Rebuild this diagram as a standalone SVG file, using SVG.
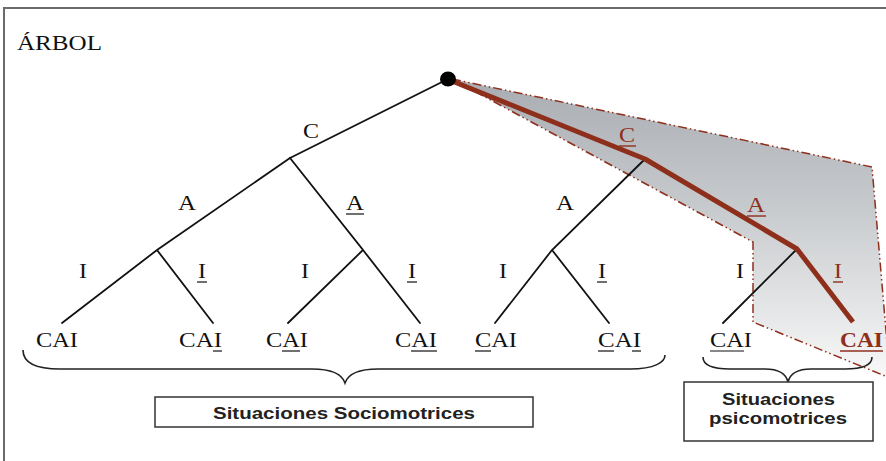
<svg xmlns="http://www.w3.org/2000/svg" width="886" height="461" viewBox="0 0 886 461">
<style>
.t{font-family:"Liberation Serif","Times New Roman",serif;font-size:21px;fill:#111}
.r{fill:#8e2f1c}
.b{font-family:"Liberation Sans",Arial,sans-serif;font-weight:bold;font-size:17px;fill:#222}
.e{stroke:#111;stroke-width:1.8;fill:none;stroke-linecap:round}
.u{stroke:#111;stroke-width:1.2}
.ur{stroke:#8e2f1c;stroke-width:1.4}
.box{fill:#fff;stroke:#333;stroke-width:1.5}
.br{stroke:#222;stroke-width:1.6;fill:none}
</style>
<defs>
<linearGradient id="g" x1="0" y1="80" x2="0" y2="370" gradientUnits="userSpaceOnUse">
<stop offset="0" stop-color="#a9adb2"/>
<stop offset="0.45" stop-color="#c8cbce"/>
<stop offset="1" stop-color="#f6f6f6"/>
</linearGradient>
</defs>
<rect width="886" height="461" fill="#fff"/>
<path d="M4,461 V8 H886" fill="none" stroke="#6b6b6b" stroke-width="2"/>
<text class="t" x="17" y="50" font-size="22" textLength="85" lengthAdjust="spacingAndGlyphs">ÁRBOL</text>

<g id="highlight">
<polygon points="452,79 872,167 890,378 753,322 753,242" fill="url(#g)" stroke="#8e2f1c" stroke-width="1.5" stroke-dasharray="9,3,1.5,3,1.5,3"/>
</g>

<g id="connectors">
<path class="e" d="M448,79 L290,158"/>
<path class="e" d="M290,158 L157,250 L62,323 M157,250 L213,323"/>
<path class="e" d="M290,158 L363,250 L288,323 M363,250 L420,323"/>
<path class="e" d="M645,159 L552,250 L495,323 M552,250 L609,323"/>
<path class="e" d="M797,249 L723,323"/>
<path d="M452,81 L645,159 L797,249 L853,322" fill="none" stroke="#8e2f1c" stroke-width="5" stroke-linejoin="round"/>
</g>

<g id="root"><ellipse cx="448" cy="79" rx="8" ry="7.5" fill="#000"/></g>

<g id="edge-labels">
<text class="t" x="303" y="138" textLength="16" lengthAdjust="spacingAndGlyphs">C</text>
<text class="t" x="178" y="210" textLength="18" lengthAdjust="spacingAndGlyphs">A</text>
<text class="t" x="346" y="210" textLength="18" lengthAdjust="spacingAndGlyphs">A</text><line class="u" x1="346" y1="214" x2="364" y2="214"/>
<text class="t" x="556" y="210" textLength="18" lengthAdjust="spacingAndGlyphs">A</text>
<text class="t r" x="619" y="142" textLength="16" lengthAdjust="spacingAndGlyphs">C</text><line class="ur" x1="619" y1="146" x2="636" y2="146"/>
<text class="t r" x="747" y="212" textLength="18" lengthAdjust="spacingAndGlyphs">A</text><line class="ur" x1="747" y1="216" x2="766" y2="216"/>
<text class="t" x="79" y="278" textLength="8" lengthAdjust="spacingAndGlyphs">I</text>
<text class="t" x="198" y="278" textLength="8" lengthAdjust="spacingAndGlyphs">I</text><line class="u" x1="197" y1="282" x2="207" y2="282"/>
<text class="t" x="301" y="278" textLength="8" lengthAdjust="spacingAndGlyphs">I</text>
<text class="t" x="408" y="278" textLength="8" lengthAdjust="spacingAndGlyphs">I</text><line class="u" x1="407" y1="282" x2="417" y2="282"/>
<text class="t" x="499" y="278" textLength="8" lengthAdjust="spacingAndGlyphs">I</text>
<text class="t" x="598" y="278" textLength="8" lengthAdjust="spacingAndGlyphs">I</text><line class="u" x1="597" y1="282" x2="607" y2="282"/>
<text class="t" x="736" y="278" textLength="8" lengthAdjust="spacingAndGlyphs">I</text>
<text class="t r" x="834" y="278" textLength="8" lengthAdjust="spacingAndGlyphs">I</text><line class="ur" x1="833" y1="282" x2="843" y2="282"/>
</g>

<g id="leaf1"><text class="t" x="36" y="347" textLength="42" lengthAdjust="spacingAndGlyphs">CAI</text></g>
<g id="leaf2"><text class="t" x="179" y="347" textLength="43" lengthAdjust="spacingAndGlyphs">CAI</text><line class="u" x1="213" y1="351" x2="222" y2="351"/></g>
<g id="leaf3"><text class="t" x="266" y="347" textLength="42" lengthAdjust="spacingAndGlyphs">CAI</text><line class="u" x1="282" y1="351" x2="300" y2="351"/></g>
<g id="leaf4"><text class="t" x="395" y="347" textLength="42" lengthAdjust="spacingAndGlyphs">CAI</text><line class="u" x1="411" y1="351" x2="437" y2="351"/></g>
<g id="leaf5"><text class="t" x="475" y="347" textLength="42" lengthAdjust="spacingAndGlyphs">CAI</text><line class="u" x1="475" y1="351" x2="491" y2="351"/></g>
<g id="leaf6"><text class="t" x="598" y="347" textLength="43" lengthAdjust="spacingAndGlyphs">CAI</text><line class="u" x1="598" y1="351" x2="614" y2="351"/><line class="u" x1="632" y1="351" x2="641" y2="351"/></g>
<g id="leaf7"><text class="t" x="710" y="347" textLength="42" lengthAdjust="spacingAndGlyphs">CAI</text><line class="u" x1="710" y1="351" x2="744" y2="351"/></g>
<g id="leaf8"><text class="t r" x="840" y="347" font-weight="bold" textLength="43" lengthAdjust="spacingAndGlyphs">CAI</text><line class="ur" x1="840" y1="351" x2="883" y2="351"/></g>

<g id="braces">
<path class="br" d="M23,350 C23,362 35,369 60,369 L312,369 C332,369 342,374 345,383 C348,374 358,369 378,369 L630,369 C655,369 665,362 665,355"/>
<path class="br" d="M703,357 C703,365 712,369 730,369 L765,369 C780,369 786,374 788,382 C790,374 796,369 811,369 L845,369 C863,369 872,365 872,357"/>
</g>

<g id="socio">
<rect class="box" x="155" y="397" width="378" height="30"/>
<text class="b" x="213" y="419" textLength="262" lengthAdjust="spacingAndGlyphs">Situaciones Sociomotrices</text>
</g>
<g id="psico">
<rect class="box" x="684" y="382" width="189" height="59"/>
<text class="b" x="722" y="405" font-size="15.5" textLength="113" lengthAdjust="spacingAndGlyphs">Situaciones</text>
<text class="b" x="709" y="424" font-size="15.5" textLength="138" lengthAdjust="spacingAndGlyphs">psicomotrices</text>
</g>
</svg>
